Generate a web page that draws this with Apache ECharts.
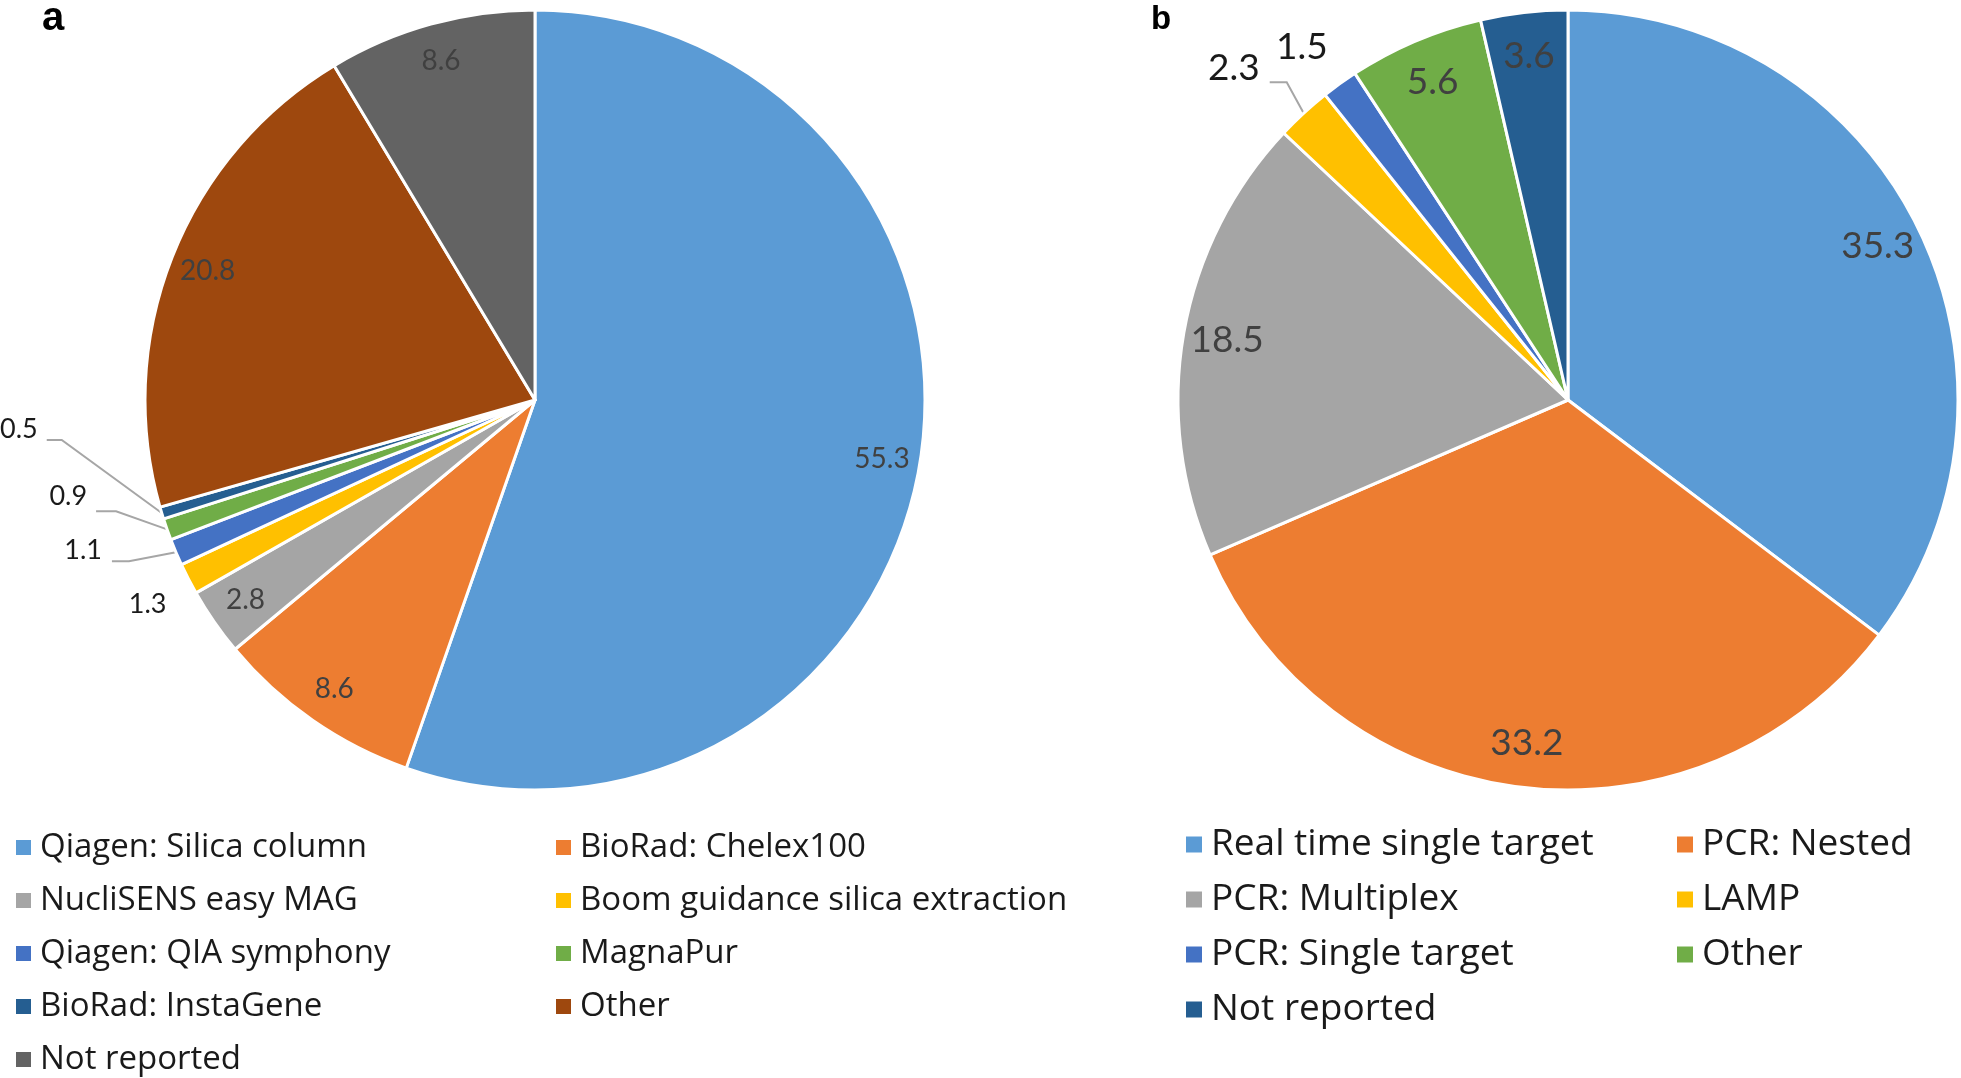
<!DOCTYPE html>
<html>
<head>
<meta charset="utf-8">
<script src="https://cdn.jsdelivr.net/npm/echarts@6/dist/echarts.min.js"></script>
<style>
html,body{margin:0;padding:0;background:#fff;}
#chart{width:1961px;height:1078px;}
</style>
</head>
<body>
<div id="chart"></div>
<script>
// ---------- data ----------
const aCategories = ['Qiagen: Silica column','BioRad: Chelex100','NucliSENS easy MAG','Boom guidance silica extraction','Qiagen: QIA symphony','MagnaPur','BioRad: InstaGene','Other','Not reported'];
const aValues = [55.3, 8.6, 2.8, 1.3, 1.1, 0.9, 0.5, 20.8, 8.6];
const bCategories = ['Real time single target','PCR: Nested','PCR: Multiplex','LAMP','PCR: Single target','Other','Not reported'];
const bValues = [35.3, 33.2, 18.5, 2.3, 1.5, 5.6, 3.6];

// ---------- styles ----------
const aColors = ['#5B9BD5','#ED7D31','#A5A5A5','#FFC000','#4472C4','#70AD47','#255E91','#9E480E','#636363'];
const bColors = ['#5B9BD5','#ED7D31','#A5A5A5','#FFC000','#4472C4','#70AD47','#255E91'];
const FONT = 'Lato';
const LEGEND_FONT = '"Open Sans"';
const R = 390;
const aCenter = [535, 400];
const bCenter = [1568, 400];
const aInside = [0, 1, 2, 7, 8];
const bInside = [0, 1, 2, 5, 6];
// outside label placement relative to slice edge anchor (label right edge / middle, elbow, line end)
const aOutside = {
  3: {lx: -22, ly: 25, line: false},
  4: {lx: -74, ly: -2, ex: -47, ey: 9, tx: -64, ty: 9},
  5: {lx: -80, ly: -33, ex: -51, ey: -18, tx: -71, ty: -18},
  6: {lx: -124, ly: -84, ex: -100, ey: -73, tx: -115, ty: -73}
};
const bOutside = {
  3: {lx: -44, ly: -45, ex: -17, ey: -31, tx: -34, ty: -31},
  4: {lx: -12, ly: -37, line: false}
};

function edgeAnchor(values, idx, center) {
  const total = values.reduce((s, v) => s + v, 0);
  let cum = 0;
  for (let i = 0; i < idx; i++) cum += values[i];
  cum += values[idx] / 2;
  const ang = cum / total * Math.PI * 2;
  return [center[0] + R * Math.sin(ang), center[1] - R * Math.cos(ang)];
}

function makeLayout(values, center, cfg) {
  return function (p) {
    const o = cfg[p.dataIndex];
    if (!o) return;
    let a = (p.labelLinePoints && p.labelLinePoints[0]) ? p.labelLinePoints[0] : edgeAnchor(values, p.dataIndex, center);
    a = [a[0], a[1]];
    const pts = o.line === false ? [a, a, a] :
      [a, [a[0] + o.ex, a[1] + o.ey], [a[0] + o.tx, a[1] + o.ty]];
    return {x: a[0] + o.lx, y: a[1] + o.ly, align: 'right', verticalAlign: 'middle', labelLinePoints: pts};
  };
}

function mainData(cats, vals, colors, outside, fontSize) {
  return cats.map((n, i) => {
    const d = {name: n, value: vals[i], itemStyle: {color: colors[i]}};
    if (outside[i]) {
      d.label = {show: true, position: 'outside', formatter: '{c}', fontSize: fontSize, fontFamily: FONT, color: '#1a1a1a'};
      d.labelLine = {show: true, length: 10, length2: 10, lineStyle: {color: '#A6A6A6', width: 2, opacity: outside[i].line === false ? 0 : 1}};
    }
    return d;
  });
}
function overlayData(cats, vals, inside) {
  return cats.map((n, i) => ({
    name: n, value: vals[i],
    label: {show: inside.indexOf(i) >= 0}
  }));
}
function legendData(cats, colors, idxs) {
  return idxs.map(i => ({name: cats[i], itemStyle: {color: colors[i], borderWidth: 0}}));
}
const legendA = {
  orient: 'vertical', top: 831, itemGap: 20, itemWidth: 15, itemHeight: 15, icon: 'rect',
  padding: 0, height: 600,
  selectedMode: false,
  itemStyle: {borderWidth: 0},
  textStyle: {fontFamily: LEGEND_FONT, fontSize: 33, lineHeight: 33, color: '#1a1a1a', padding: [0, 0, 0, 4]}
};
const legendB = {
  orient: 'vertical', top: 826, itemGap: 18, itemWidth: 16, itemHeight: 16, icon: 'rect',
  padding: 0, height: 600,
  selectedMode: false,
  itemStyle: {borderWidth: 0},
  textStyle: {fontFamily: LEGEND_FONT, fontSize: 37, lineHeight: 37, color: '#1a1a1a', padding: [0, 0, 0, 4]}
};

const chart = echarts.init(document.getElementById('chart'), null, {renderer: 'canvas', width: 1961, height: 1078});
chart.setOption({
  animation: false,
  backgroundColor: '#ffffff',
  graphic: [
    {type: 'text', x: 42, y: 19, style: {text: 'a', font: 'bold 40px "Liberation Sans", Arial', fill: '#000', verticalAlign: 'middle'}},
    {type: 'text', x: 1151, y: 20, style: {text: 'b', font: 'bold 33px "Liberation Sans", Arial', fill: '#000', verticalAlign: 'middle'}}
  ],
  legend: [
    Object.assign({}, legendA, {left: 16, data: legendData(aCategories, aColors, [0, 2, 4, 6, 8])}),
    Object.assign({}, legendA, {left: 556, data: legendData(aCategories, aColors, [1, 3, 5, 7])}),
    Object.assign({}, legendB, {left: 1186, data: legendData(bCategories, bColors, [0, 2, 4, 6])}),
    Object.assign({}, legendB, {left: 1677, data: legendData(bCategories, bColors, [1, 3, 5])})
  ],
  series: [
    {
      type: 'pie', name: 'a', center: aCenter, radius: [0, R], startAngle: 90, clockwise: true,
      avoidLabelOverlap: false, emphasis: {disabled: true}, silent: true,
      itemStyle: {borderColor: '#ffffff', borderWidth: 3},
      label: {show: false},
      labelLine: {show: false},
      labelLayout: makeLayout(aValues, aCenter, aOutside),
      data: mainData(aCategories, aValues, aColors, aOutside, 27)
    },
    {
      type: 'pie', name: 'aLabels', center: aCenter, radius: [308, R], startAngle: 90, clockwise: true,
      avoidLabelOverlap: false, emphasis: {disabled: true}, silent: true,
      itemStyle: {color: 'rgba(0,0,0,0)', borderWidth: 0},
      label: {show: true, position: 'inside', formatter: '{c}', fontSize: 28, fontFamily: FONT, color: '#404040'},
      labelLine: {show: false},
      data: overlayData(aCategories, aValues, aInside)
    },
    {
      type: 'pie', name: 'b', center: bCenter, radius: [0, R], startAngle: 90, clockwise: true,
      avoidLabelOverlap: false, emphasis: {disabled: true}, silent: true,
      itemStyle: {borderColor: '#ffffff', borderWidth: 3},
      label: {show: false},
      labelLine: {show: false},
      labelLayout: makeLayout(bValues, bCenter, bOutside),
      data: mainData(bCategories, bValues, bColors, bOutside, 37)
    },
    {
      type: 'pie', name: 'bLabels', center: bCenter, radius: [296, R], startAngle: 90, clockwise: true,
      avoidLabelOverlap: false, emphasis: {disabled: true}, silent: true,
      itemStyle: {color: 'rgba(0,0,0,0)', borderWidth: 0},
      label: {show: true, position: 'inside', formatter: '{c}', fontSize: 37, fontFamily: FONT, color: '#404040'},
      labelLine: {show: false},
      data: overlayData(bCategories, bValues, bInside)
    }
  ]
});
</script>
</body>
</html>
